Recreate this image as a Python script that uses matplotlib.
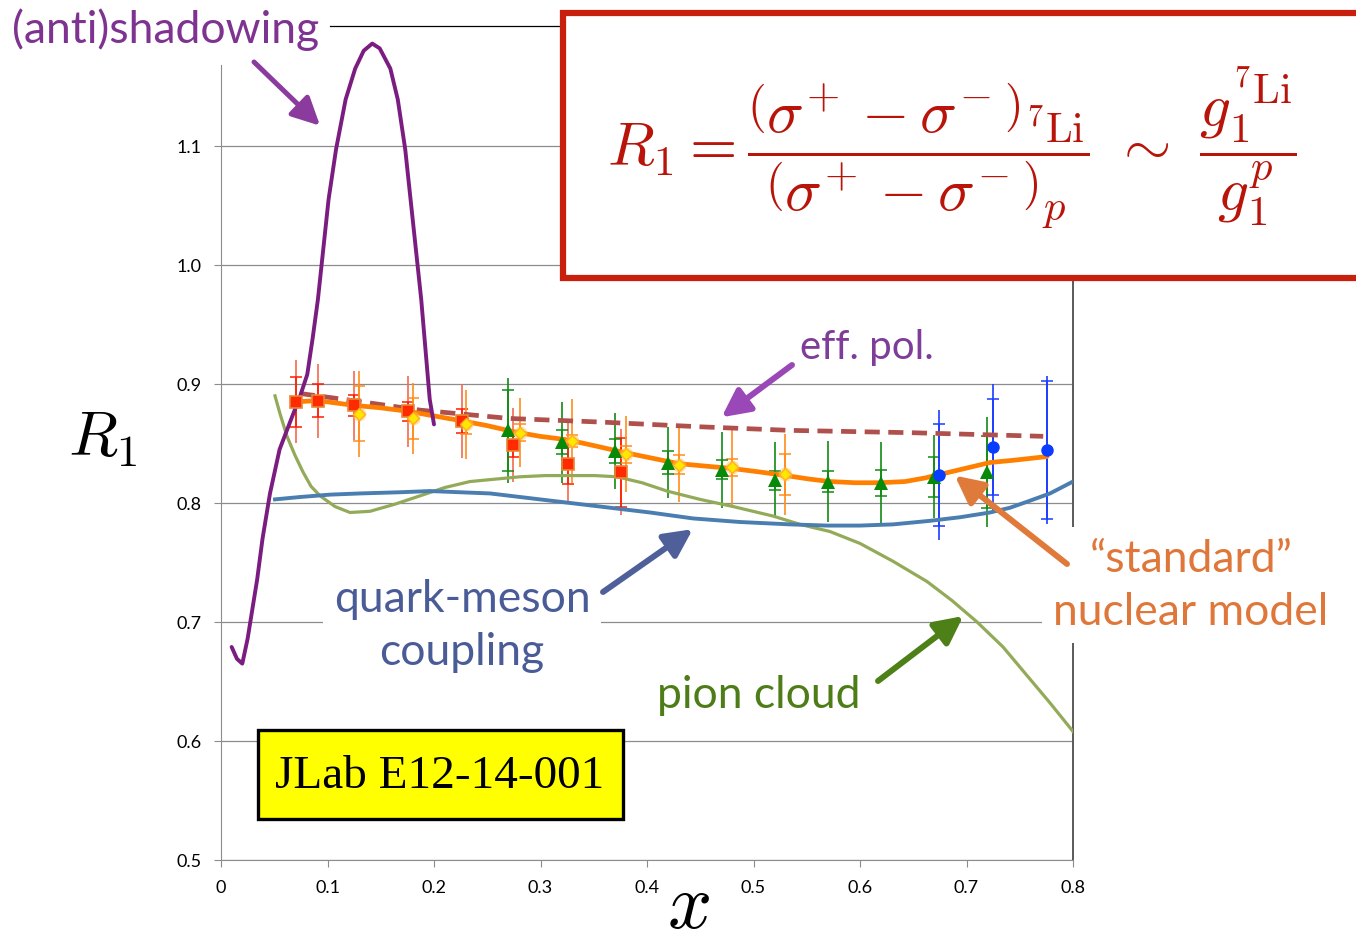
import numpy as np
import matplotlib
matplotlib.use('Agg')
import matplotlib.pyplot as plt
from matplotlib.patches import Rectangle, ConnectionPatch
from matplotlib.lines import Line2D

plt.rcParams['mathtext.fontset'] = 'cm'

# ---- model curves: R1 vs x ----
x_shadow = [0.010, 0.015, 0.020, 0.025, 0.034, 0.039, 0.046, 0.055, 0.067, 0.074,
            0.081, 0.086, 0.091, 0.096, 0.101, 0.108, 0.117, 0.126, 0.134, 0.142,
            0.149, 0.159, 0.166, 0.173, 0.178, 0.183, 0.188, 0.192, 0.196, 0.200]
r_shadow = [0.679, 0.669, 0.665, 0.686, 0.736, 0.770, 0.808, 0.845, 0.873, 0.889,
            0.908, 0.938, 0.971, 1.013, 1.055, 1.097, 1.139, 1.165, 1.180, 1.186,
            1.182, 1.165, 1.139, 1.097, 1.055, 1.013, 0.971, 0.929, 0.887, 0.866]

x_pion = [0.0507, 0.0554, 0.0620, 0.0695, 0.0770, 0.0845, 0.0930, 0.1070, 0.1211,
          0.1399, 0.1634, 0.1869, 0.2103, 0.2338, 0.2573, 0.2808, 0.3042, 0.3277,
          0.3512, 0.3718, 0.3953, 0.4188, 0.4498, 0.4808, 0.5183, 0.5437, 0.5718,
          0.6000, 0.6310, 0.6629, 0.6864, 0.7099, 0.7343, 0.7568, 0.7784, 0.8000]
r_pion = [0.890, 0.875, 0.856, 0.840, 0.826, 0.814, 0.806, 0.797, 0.792,
          0.793, 0.799, 0.806, 0.813, 0.818, 0.820, 0.822, 0.823, 0.823,
          0.823, 0.822, 0.817, 0.810, 0.803, 0.797, 0.789, 0.782, 0.776,
          0.766, 0.751, 0.734, 0.718, 0.700, 0.679, 0.655, 0.632, 0.608]

x_qmc = [0.0507, 0.0742, 0.1023, 0.1305, 0.1681, 0.1962, 0.2244, 0.2526, 0.2808,
         0.3183, 0.3559, 0.4028, 0.4432, 0.4873, 0.5343, 0.5690, 0.6000, 0.6310,
         0.6657, 0.6939, 0.7221, 0.7409, 0.7568, 0.7784, 0.8000]
r_qmc = [0.803, 0.805, 0.807, 0.808, 0.809, 0.810, 0.809, 0.808, 0.805,
         0.801, 0.797, 0.792, 0.787, 0.784, 0.782, 0.781, 0.781, 0.782,
         0.785, 0.788, 0.792, 0.796, 0.801, 0.808, 0.818]

x_effpol = [0.074, 0.124, 0.187, 0.271, 0.356, 0.450, 0.534, 0.650, 0.772]
r_effpol = [0.892, 0.886, 0.878, 0.871, 0.868, 0.864, 0.861, 0.859, 0.856]

x_std = [0.0704, 0.0911, 0.1249, 0.1493, 0.1756, 0.2009, 0.2263, 0.2498, 0.2742,
         0.2995, 0.3258, 0.3512, 0.3756, 0.4028, 0.4300, 0.4545, 0.4798, 0.5061,
         0.5305, 0.5531, 0.5718, 0.5953, 0.6188, 0.6423, 0.6610, 0.6751, 0.6892,
         0.7033, 0.7221, 0.7455, 0.7756]
r_std = [0.885, 0.886, 0.882, 0.880, 0.877, 0.873, 0.869, 0.865, 0.860,
         0.856, 0.853, 0.848, 0.843, 0.838, 0.833, 0.831, 0.829, 0.826,
         0.823, 0.820, 0.818, 0.817, 0.817, 0.818, 0.821, 0.824, 0.827,
         0.830, 0.834, 0.836, 0.839]

# ---- data sets (central value, stat error, total error) ----
x_sq = [0.070, 0.091, 0.125, 0.176, 0.226, 0.274, 0.326, 0.376]
r_sq = [0.885, 0.886, 0.882, 0.877, 0.869, 0.849, 0.833, 0.826]
stat_sq = [0.021, 0.014, 0.009, 0.008, 0.010, 0.010, 0.017, 0.029]
tot_sq = [0.035, 0.031, 0.029, 0.030, 0.031, 0.031, 0.034, 0.036]

x_dia = [0.130, 0.180, 0.230, 0.281, 0.330, 0.380, 0.430, 0.480, 0.530]
r_dia = [0.875, 0.871, 0.866, 0.859, 0.852, 0.841, 0.832, 0.830, 0.824]
stat_dia = [0.023, 0.017, 0.008, 0.007, 0.005, 0.007, 0.008, 0.007, 0.017]
tot_dia = [0.036, 0.030, 0.029, 0.029, 0.035, 0.032, 0.031, 0.032, 0.034]

x_tri = [0.2695, 0.320, 0.370, 0.420, 0.4705, 0.520, 0.570, 0.620, 0.6695, 0.719]
r_tri = [0.861, 0.851, 0.844, 0.834, 0.828, 0.819, 0.818, 0.817, 0.822, 0.826]
stat_tri = [0.034, 0.010, 0.010, 0.010, 0.008, 0.008, 0.009, 0.011, 0.017, 0.030]
tot_tri = [0.044, 0.034, 0.032, 0.030, 0.032, 0.032, 0.034, 0.034, 0.035, 0.046]

x_circ = [0.674, 0.725, 0.7755]
r_circ = [0.8235, 0.847, 0.8445]
stat_circ = [0.043, 0.040, 0.058]
tot_circ = [0.055, 0.053, 0.062]

x_ticks = [0, 0.1, 0.2, 0.3, 0.4, 0.5, 0.6, 0.7, 0.8]
x_ticklabels = ['0', '0.1', '0.2', '0.3', '0.4', '0.5', '0.6', '0.7', '0.8']
y_ticks = [0.5, 0.6, 0.7, 0.8, 0.9, 1.0, 1.1]
y_ticklabels = ['0.5', '0.6', '0.7', '0.8', '0.9', '1.0', '1.1']

W, H = 1356, 945


def fpos(px, py):
    """pixel position measured from the top-left corner -> figure fraction"""
    return px / W, 1 - py / H


fig = plt.figure(figsize=(W / 100, H / 100), dpi=100)
ax = fig.add_axes([221 / W, 1 - 861 / H, (1073 - 221) / W, (861 - 66) / H])
ax.set_xlim(0, 0.8)
ax.set_ylim(0.5, 1.168)

ax.set_xticks(x_ticks)
ax.set_xticklabels(x_ticklabels)
ax.set_yticks(y_ticks)
ax.set_yticklabels(y_ticklabels)
ax.tick_params(direction='out', length=5, width=0.8, color='#8c8c8c',
               labelsize=13, pad=9)
for lab in ax.get_xticklabels() + ax.get_yticklabels():
    lab.set_family('Lato')
ax.yaxis.grid(True, color='#8c8c8c', lw=0.9)
ax.set_axisbelow(True)
ax.spines['top'].set_visible(False)
ax.spines['left'].set_color('#8c8c8c')
ax.spines['bottom'].set_color('#8c8c8c')
ax.spines['right'].set_color('#5a5a5a')
ax.spines['right'].set_linewidth(1.4)

# error bars: total without caps, statistical with caps
for xs, ys, st, tt, c_tot, c_st in [
        (x_sq, r_sq, stat_sq, tot_sq, '#f36a50', '#ff1a00'),
        (x_dia, r_dia, stat_dia, tot_dia, '#ff8c1a', '#ff8c1a'),
        (x_tri, r_tri, stat_tri, tot_tri, '#128a12', '#128a12'),
        (x_circ, r_circ, stat_circ, tot_circ, '#1a3cff', '#1a3cff')]:
    ax.errorbar(xs, ys, yerr=tt, fmt='none', ecolor=c_tot, elinewidth=1.2,
                capsize=0, zorder=2)
    ax.errorbar(xs, ys, yerr=st, fmt='none', ecolor=c_st, elinewidth=1.2,
                capsize=4, capthick=1.1, zorder=2)

ax.plot(x_pion, r_pion, color='#93ab58', lw=2.3, zorder=3)
ax.plot(x_qmc, r_qmc, color='#4a7db0', lw=2.8, zorder=3)
ax.plot(x_effpol, r_effpol, color='#b0504c', lw=3.4, ls=(0, (3.2, 1.8)), zorder=3)
ax.plot(x_std, r_std, color='#ff8000', lw=3.4, zorder=3, solid_capstyle='round')
ax.plot(x_shadow, r_shadow, color='#7b1c80', lw=2.8, zorder=3, clip_on=False,
        solid_capstyle='round')

ax.plot(x_sq, r_sq, 's', ms=9, mfc='#ff2a00', mec='#e8863a', mew=1.2, zorder=5)
ax.plot(x_dia, r_dia, 'o', ms=10, color='#ffc04d', alpha=0.5, mew=0, zorder=4)
ax.plot(x_dia, r_dia, 'D', ms=6, mfc='#ffe800', mec='#ffb020', mew=1, zorder=5)
ax.plot(x_tri, r_tri, '^', ms=10, color='#078a07', mew=0, zorder=5)
ax.plot(x_circ, r_circ, 'o', ms=9, color='#0a3cff', mew=0, zorder=5)

# axis titles
fig.text(*fpos(103, 438), r'$R_1$', fontsize=46, ha='center', va='center')
fig.text(*fpos(688, 906), r'$x$', fontsize=56, ha='center', va='center')

# formula box
fig.add_artist(Rectangle(fpos(563, 279), (1420 - 563) / W, (279 - 14) / H,
                         transform=fig.transFigure, facecolor='white',
                         edgecolor='#c8200c', lw=4.5, zorder=4))
formula = (r'$R_1 = \dfrac{\left(\sigma^{\!+} - \sigma^{\!-}\right)_{{}^7\mathrm{Li}}}'
           r'{\left(\sigma^{\!+} - \sigma^{\!-}\right)_p}\ \sim\ '
           r'\dfrac{g_1^{{}^7\mathrm{Li}}}{g_1^p}$')
fig.text(*fpos(952, 148), formula, fontsize=44, color='#b8140a',
         ha='center', va='center', zorder=5)

# experiment tag
fig.add_artist(Rectangle(fpos(258, 820), 365 / W, 89 / H,
                         transform=fig.transFigure, facecolor='#ffff00',
                         edgecolor='black', lw=2.4, zorder=4))
fig.text(*fpos(440, 777), 'JLab E12-14-001', family='Liberation Serif',
         fontsize=34, ha='center', va='center', zorder=5)

# model labels
fig.text(*fpos(12, 30), '(anti)shadowing', color='#7f3391', fontsize=32,
         family='Lato', ha='left', va='center')
fig.add_artist(Line2D([330 / W, 563 / W], [1 - 27 / H, 1 - 27 / H],
                      color='black', lw=0.9))
fig.text(*fpos(800, 348), 'eff. pol.', color='#7f3c98', fontsize=29,
         family='Lato', ha='left', va='center')
fig.text(*fpos(657, 695), 'pion cloud', color='#4e7d18', fontsize=32,
         family='Lato', ha='left', va='center')
fig.text(*fpos(462, 626), 'quark-meson\ncoupling', color='#4a5c97',
         fontsize=32, family='Lato', ha='center', va='center',
         multialignment='center', linespacing=1.35,
         bbox=dict(facecolor='white', edgecolor='none', pad=8))
fig.text(*fpos(1191, 586), '\u201cstandard\u201d\nnuclear model',
         color='#e0773a', fontsize=32, family='Lato', ha='center',
         va='center', multialignment='center', linespacing=1.35,
         bbox=dict(facecolor='white', edgecolor='none', pad=8))

# arrows: tail in figure space, head on the curve
arrows = [((254, 63), (0.093, 1.117), '#8b3a9e', 3.6),
          ((792, 366), (0.470, 0.872), '#9a48b8', 4.3),
          ((603, 593), (0.443, 0.778), '#4f5f9a', 4.3),
          ((878, 682), (0.697, 0.705), '#4e8018', 4.3),
          ((1067, 565), (0.689, 0.823), '#e07a3a', 4.3)]
for tail, tip, col, lw in arrows:
    con = ConnectionPatch(xyA=fpos(*tail), coordsA='figure fraction',
                          xyB=tip, coordsB='data', axesB=ax,
                          arrowstyle='-|>', mutation_scale=42, lw=lw,
                          color=col, shrinkA=0, shrinkB=0, zorder=6)
    fig.add_artist(con)

fig.savefig('out.png', dpi=100)
